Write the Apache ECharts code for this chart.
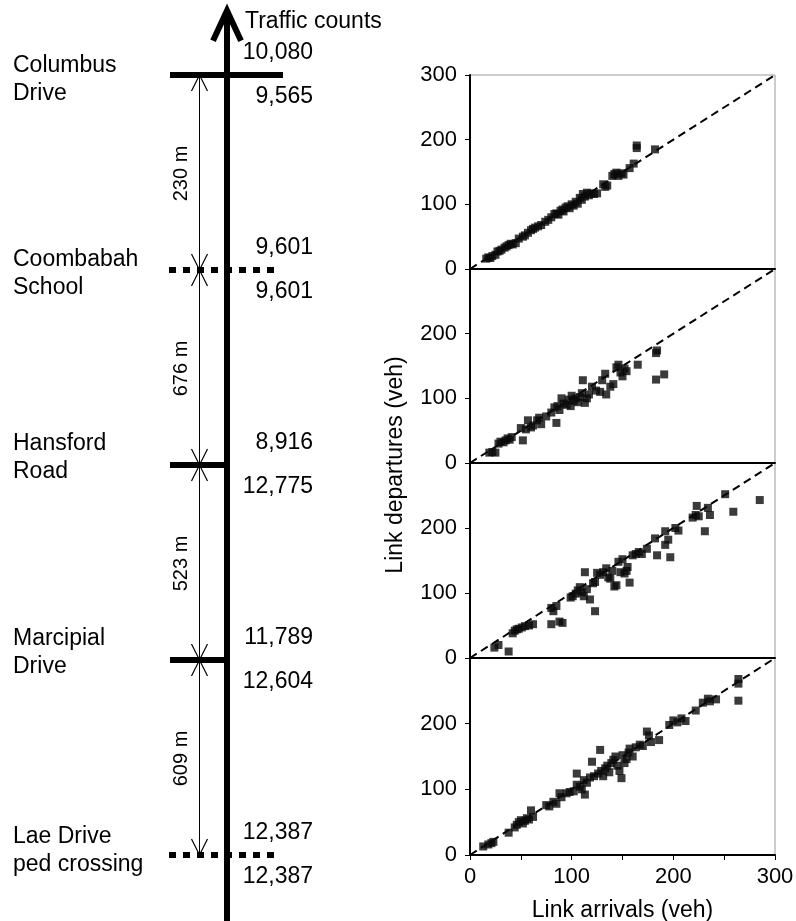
<html>
<head>
<title>Link arrivals vs departures</title>
<script src="https://cdn.jsdelivr.net/npm/echarts@6.0.0/dist/echarts.min.js"></script>
<style>
  body { margin: 0; background: #fff; }
  #container { width: 796px; height: 921px; }
</style>
</head>
<body>
<div id="container"></div>
<script type="text/javascript">
// road sections, top to bottom
var siteNames = ['Columbus\nDrive', 'Coombabah\nSchool', 'Hansford\nRoad', 'Marcipial\nDrive', 'Lae Drive\nped crossing'];
var crossingKinds = ['cross', 'ped', 'tee', 'tee', 'ped'];
var countsAbove = ['10,080', '9,601', '8,916', '11,789', '12,387'];
var countsBelow = ['9,565', '9,601', '12,775', '12,604', '12,387'];
var linkLengths = ['230 m', '676 m', '523 m', '609 m'];

// scatter panels: [arrivals, departures]
var link1 = [[16,16],[18,18],[20,17],[22,20],[25,22],[27,27],[29,28],[31,30],[34,33],[36,35],[38,37],[40,39],[42,38],[45,40],
  [48,47],[52,50],[54,52],[57,56],[60,60],[62,62],[64,64],[67,66],[70,68],[74,73],[77,76],[80,80],[83,85],[85,86],[87,84],
  [89,90],[91,92],[92,89],[94,95],[96,97],[98,94],[100,100],[102,98],[104,104],[106,101],[108,110],[110,107],[111,116],
  [113,112],[115,118],[117,114],[119,117],[122,116],[125,117],[131,131],[133,127],[135,129],[140,144],[142,147],[144,149],
  [146,144],[149,148],[151,146],[157,156],[161,163],[164,187],[164,191],[182,185]];
var link2 = [[19,16],[22,17],[25,16],[28,30],[30,33],[33,32],[35,35],[37,38],[39,36],[41,40],[52,35],[50,54],[55,52],[57,66],
  [60,55],[62,58],[66,66],[68,70],[70,60],[75,72],[80,78],[83,86],[85,62],[86,88],[88,82],[90,100],[92,92],[95,90],[97,98],
  [99,88],[100,104],[102,96],[104,100],[106,94],[108,102],[110,108],[111,128],[113,93],[115,100],[117,106],[120,118],
  [124,112],[128,110],[130,128],[133,138],[134,106],[138,118],[141,122],[144,148],[146,152],[148,140],[150,134],[152,146],
  [154,142],[165,152],[183,170],[184,174],[183,129],[191,137]];
var link3 = [[24,16],[28,20],[38,10],[42,38],[44,42],[46,44],[48,45],[51,47],[54,49],[58,50],[62,52],[80,77],[82,72],[85,80],
  [80,52],[88,56],[91,54],[99,93],[101,95],[104,99],[106,104],[108,109],[110,101],[112,95],[113,132],[115,106],[118,90],
  [121,115],[123,72],[123,117],[125,131],[128,128],[131,132],[134,138],[136,124],[138,122],[140,134],[142,110],[144,112],
  [146,148],[148,132],[150,152],[152,130],[154,134],[155,140],[157,116],[160,158],[163,160],[166,163],[169,160],[174,168],
  [182,184],[184,158],[192,195],[192,174],[195,182],[197,155],[202,200],[205,196],[219,216],[222,220],[223,234],[225,218],
  [231,195],[234,231],[236,220],[251,252],[259,225],[285,243]];
var link4 = [[13,13],[18,16],[21,18],[23,20],[38,34],[44,42],[46,46],[48,50],[50,53],[52,48],[54,52],[56,56],[58,54],[60,68],
  [62,58],[75,76],[78,74],[82,81],[85,78],[88,94],[90,88],[95,94],[98,96],[102,97],[105,124],[105,107],[108,104],[110,100],
  [112,114],[113,92],[115,110],[118,118],[120,142],[122,120],[126,124],[128,160],[129,128],[131,120],[133,132],[135,136],
  [137,126],[139,140],[141,145],[143,150],[145,136],[147,128],[149,117],[150,152],[152,140],[154,146],[156,156],[157,162],
  [160,150],[163,164],[167,168],[170,166],[174,188],[176,182],[178,172],[186,175],[196,198],[200,205],[204,202],[208,208],
  [212,204],[222,220],[229,232],[234,238],[236,234],[242,237],[264,268],[264,261],[264,235]];
var panels = [link1, link2, link3, link4];
var equalityLine = [[0, 0], [300, 300]];
var tickLabels = [0, 100, 200, 300];

var FONT = 'Liberation Sans, Arial, sans-serif';
var dom = document.getElementById('container');
var myChart = echarts.init(dom, null, { renderer: 'canvas' });

var gridTops = [75, 269, 463, 658];
var gridHeights = [194, 194, 195, 197];
var grids = [], xAxes = [], yAxes = [], series = [];

for (var k = 0; k < 4; k++) {
  var last = (k === 3);
  grids.push({ left: 470, width: 305, top: gridTops[k], height: gridHeights[k], outerBoundsMode: 'none',
    containLabel: false, show: true, borderColor: '#999', borderWidth: 1 });
  xAxes.push({
    gridIndex: k, type: 'value', min: 0, max: 300, interval: 50,
    axisLine: { show: true, onZero: false, lineStyle: { color: '#000', width: 2 } },
    axisTick: { show: last, length: 5, lineStyle: { color: '#000' } },
    axisLabel: { show: last, fontSize: 22, lineHeight: 22, fontFamily: FONT, color: '#000', margin: 11,
      formatter: function (v) { return tickLabels.indexOf(v) >= 0 ? String(v) : ''; } },
    splitLine: { show: false },
    name: last ? 'Link arrivals (veh)' : '', nameLocation: 'middle', nameGap: 36, nameMoveOverlap: false,
    nameTextStyle: { fontSize: 23, fontFamily: FONT, color: '#000' }
  });
  yAxes.push({
    gridIndex: k, type: 'value', min: 0, max: 300, interval: 100,
    axisLine: { show: true, onZero: false, lineStyle: { color: '#000', width: 2 } },
    axisTick: { show: true, length: 5, lineStyle: { color: '#000' } },
    axisLabel: { fontSize: 22, fontFamily: FONT, color: '#000', margin: 13, showMaxLabel: k === 0 },
    splitLine: { show: false }
  });
  series.push({
    type: 'line', xAxisIndex: k, yAxisIndex: k, data: equalityLine, symbol: 'none', silent: true,
    lineStyle: { color: '#000', width: 2, type: [8, 5] }, z: 2
  });
  series.push({
    type: 'scatter', xAxisIndex: k, yAxisIndex: k, data: panels[k], symbol: 'rect', symbolSize: 8,
    itemStyle: { color: '#0a0a0a' }, z: 3
  });
}

// schematic of the road on the left
grids.push({ left: 0, width: 390, top: 75, height: 780, outerBoundsMode: 'none', containLabel: false });
xAxes.push({ gridIndex: 4, type: 'value', min: 0, max: 390, show: false });
yAxes.push({ gridIndex: 4, type: 'value', min: 0, max: 4, inverse: true, show: false });

var ROAD_X = 227, DIM_X = 199.5, COUNT_X = 313, NAME_X = 13;
var nameShift = [1, 0, -11, -11, -8];

function txt(x, y, s, size, align, vAlign, rot) {
  return { type: 'text', x: x, y: y, rotation: rot || 0,
    style: { text: s, fill: '#000', font: size + 'px ' + FONT, lineHeight: 28,
      align: align, verticalAlign: vAlign, textAlign: align, textVerticalAlign: vAlign } };
}
function seg(x1, y1, x2, y2, w, dash) {
  return { type: 'line', shape: { x1: x1, y1: y1, x2: x2, y2: y2 },
    style: { stroke: '#000', lineWidth: w, lineDash: dash || null } };
}
function vee(x, y, dir) {
  return { type: 'polyline', shape: { points: [[x - 8, y + 16 * dir], [x, y], [x + 8, y + 16 * dir]] },
    style: { stroke: '#000', lineWidth: 1.2, fill: null } };
}

series.push({
  type: 'custom', xAxisIndex: 4, yAxisIndex: 4, data: [[ROAD_X, 0]], silent: true,
  renderItem: function (params, api) {
    var top = api.coord([ROAD_X, -0.34]);
    var bot = api.coord([ROAD_X, 4.35]);
    return { type: 'group', children: [
      seg(top[0], top[1] + 3, bot[0], bot[1], 6),
      { type: 'polyline', shape: { points: [[top[0] - 14, top[1] + 32], [top[0], top[1] + 2], [top[0] + 14, top[1] + 32]] },
        style: { stroke: '#000', lineWidth: 6, fill: null } },
      txt(top[0] + 18, top[1] + 13, 'Traffic counts', 23, 'left', 'middle')
    ] };
  }
});

series.push({
  type: 'custom', xAxisIndex: 4, yAxisIndex: 4, silent: true,
  data: siteNames.map(function (n, i) { return [ROAD_X, i]; }),
  renderItem: function (params, api) {
    var i = params.dataIndex;
    var p = api.coord([ROAD_X, api.value(1)]);
    var y = p[1];
    var kind = crossingKinds[i];
    var ch = [];
    if (kind === 'cross') ch.push(seg(ROAD_X - 57, y, ROAD_X + 56, y, 6));
    else if (kind === 'tee') ch.push(seg(ROAD_X - 57, y, ROAD_X, y, 6));
    else ch.push(seg(ROAD_X - 58, y, ROAD_X + 52, y, 6, [7, 7]));
    ch.push(txt(NAME_X, y + nameShift[i] + 4, siteNames[i], 23, 'left', 'middle'));
    ch.push(txt(COUNT_X, y - 22, countsAbove[i], 23, 'right', 'middle'));
    ch.push(txt(COUNT_X, y + 22, countsBelow[i], 23, 'right', 'middle'));
    if (i < linkLengths.length) {
      var y2 = api.coord([ROAD_X, i + 1])[1];
      ch.push(seg(DIM_X, y, DIM_X, y2, 1));
      ch.push(vee(DIM_X, y, 1));
      ch.push(vee(DIM_X, y2, -1));
      ch.push(txt(DIM_X - 18, (y + y2) / 2 + 1, linkLengths[i], 20, 'center', 'middle', Math.PI / 2));
    }
    return { type: 'group', children: ch };
  }
});

var option = {
  backgroundColor: '#fff',
  animation: false,
  textStyle: { fontFamily: FONT },
  grid: grids,
  xAxis: xAxes,
  yAxis: yAxes,
  series: series,
  graphic: [{
    type: 'text', x: 396, y: 465, rotation: Math.PI / 2,
    style: { text: 'Link departures (veh)', fill: '#000', font: '23px ' + FONT,
      align: 'center', verticalAlign: 'middle', textAlign: 'center', textVerticalAlign: 'middle' }
  }]
};
myChart.setOption(option);
</script>
</body>
</html>
